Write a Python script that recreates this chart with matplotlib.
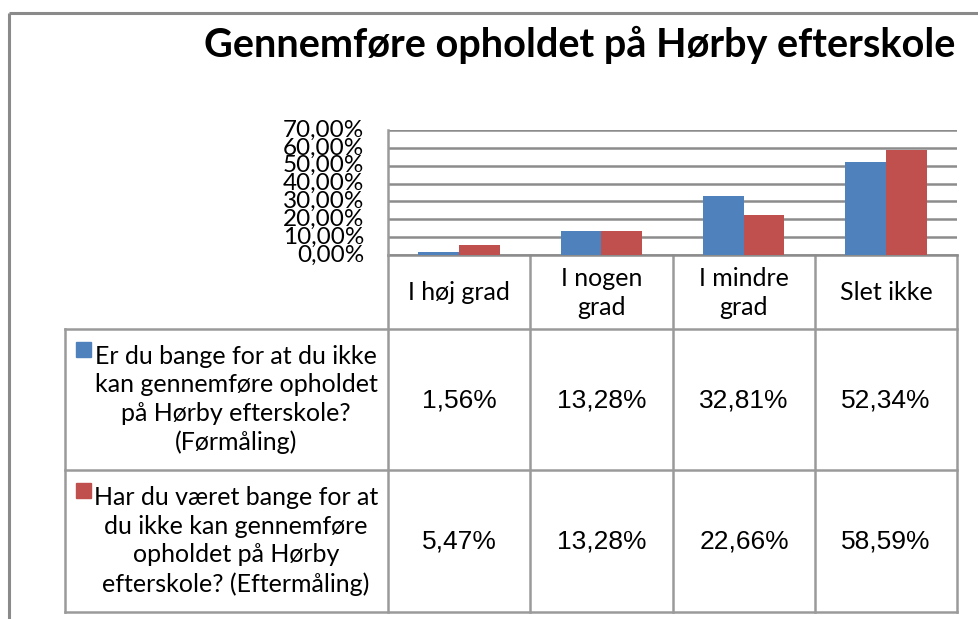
import matplotlib
matplotlib.use("Agg")
import matplotlib.pyplot as plt
import numpy as np

# ---- data ----
title = "Gennemføre opholdet på Hørby efterskole"
categories = ["I høj grad", "I nogen\ngrad", "I mindre\ngrad", "Slet ikke"]
series_names = [
    "Er du bange for at du ikke\nkan gennemføre opholdet\npå Hørby efterskole?\n(Førmåling)",
    "Har du været bange for at\ndu ikke kan gennemføre\nopholdet på Hørby\nefterskole? (Eftermåling)",
]
before = [1.56, 13.28, 32.81, 52.34]
after = [5.47, 13.28, 22.66, 58.59]
yticks = [0, 10, 20, 30, 40, 50, 60, 70]

colors = ["#4F81BD", "#C0504D"]
grid_c = "#8C8C8C"
border_c = "#9A9A9A"
label_font = "Lato"
value_font = "Liberation Sans"

W, H = 979, 619
fig = plt.figure(figsize=(W / 100, H / 100), dpi=100)

# overlay axes in pixel coordinates
ov = fig.add_axes([0, 0, 1, 1])
ov.set_xlim(0, W)
ov.set_ylim(H, 0)
ov.axis("off")

# plot area pixel geometry
px_l, px_r = 388, 957
py_top, py_zero = 130, 255
ax = fig.add_axes([px_l / W, 1 - py_zero / H, (px_r - px_l) / W, (py_zero - py_top) / H])
ax.set_zorder(2)
ax.patch.set_alpha(0)

n = len(categories)
x = np.arange(n)
bw = 1 / 3.5
ax.bar(x - bw / 2, before, width=bw, color=colors[0], zorder=3)
ax.bar(x + bw / 2, after, width=bw, color=colors[1], zorder=3)
ax.set_xlim(-0.5, n - 0.5)
ax.set_ylim(0, 70)
ax.set_yticks(yticks)
ax.set_yticklabels([f"{v:.2f}".replace(".", ",") + "%" for v in yticks],
                   fontfamily=label_font, fontsize=17.5)
ax.tick_params(axis="y", length=0, pad=17)
ax.set_xticks([])
for lab in ax.get_yticklabels():
    lab.set_verticalalignment("center")
ax.yaxis.grid(True, color=grid_c, linewidth=1.8, zorder=0)
for s in ["top", "right", "bottom"]:
    ax.spines[s].set_visible(False)
ax.spines["left"].set_color(border_c)
ax.spines["left"].set_linewidth(1.8)

# outer frame
ov.plot([9, 9], [H + 5, 12.5], color="#8A8A8A", lw=2.2, solid_capstyle="butt")
ov.plot([9, W + 5], [12.5, 12.5], color="#8A8A8A", lw=2.2, solid_capstyle="butt")

# title
ov.text(580, 45, title, ha="center", va="center", fontfamily=label_font,
        fontweight="bold", fontsize=28.5, color="black")

# table lines
col_x = [388, 530.5, 673, 815, 957]
tbl_l = 65
row_y = [255, 329, 470, 612]
lw_t = 1.8
for cx in col_x:
    ov.plot([cx, cx], [py_zero, row_y[-1]], color=border_c, lw=lw_t, solid_capstyle="projecting")
ov.plot([tbl_l, tbl_l], [row_y[1], row_y[-1]], color=border_c, lw=lw_t, solid_capstyle="projecting")
ov.plot([px_l, px_r], [row_y[0], row_y[0]], color=grid_c, lw=lw_t)
for ry in row_y[1:]:
    ov.plot([tbl_l, px_r], [ry, ry], color=border_c, lw=lw_t, solid_capstyle="projecting")

# category labels
for i, c in enumerate(categories):
    cx = (col_x[i] + col_x[i + 1]) / 2
    ov.text(cx, (row_y[0] + row_y[1]) / 2 + 1, c, ha="center", va="center",
            fontfamily=label_font, fontsize=18, linespacing=1.3)

# legend rows
for r, (name, vals) in enumerate(zip(series_names, [before, after])):
    top, bot = row_y[r + 1], row_y[r + 2]
    mid = (top + bot) / 2
    ov.text(236, mid, name, ha="center", va="center", fontfamily=label_font,
            fontsize=18, linespacing=1.3)
    ov.add_patch(plt.Rectangle((76, top + 13), 15, 15, color=colors[r]))
    for i, v in enumerate(vals):
        cx = (col_x[i] + col_x[i + 1]) / 2
        ov.text(cx, mid + 1, f"{v:.2f}".replace(".", ",") + "%", ha="center", va="center",
                fontfamily=value_font, fontsize=19)

fig.savefig("out.png", dpi=100)
